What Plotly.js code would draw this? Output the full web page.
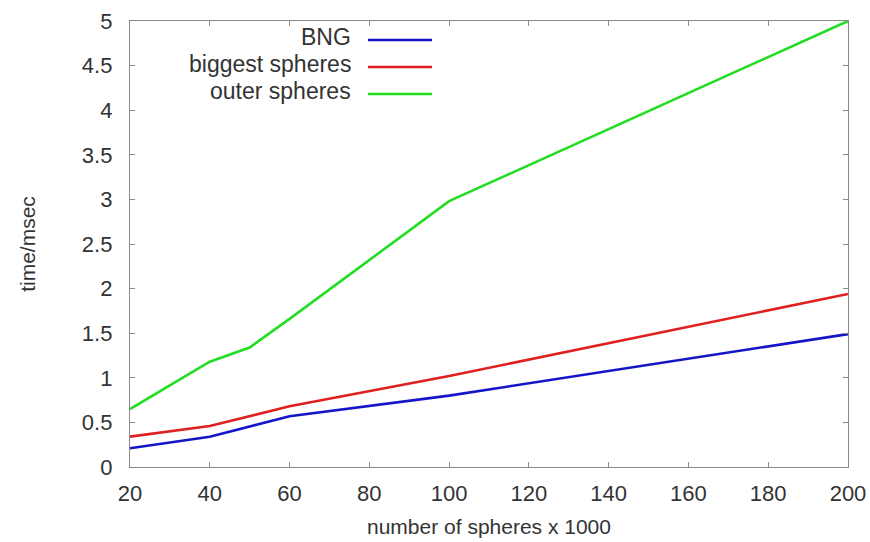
<!DOCTYPE html>
<html><head><meta charset="utf-8">
<script src="https://cdn.plot.ly/plotly-3.0.1.min.js"></script>
<style>html,body{margin:0;padding:0;background:#fff}#c{width:870px;height:542px}</style>
</head><body><div id="c"></div>
<script>
const seriesNames = ["BNG", "biggest spheres", "outer spheres"];
const xBNG = [20, 40, 60, 100, 200];
const yBNG = [0.21, 0.34, 0.57, 0.80, 1.49];
const xBiggest = [20, 40, 60, 100, 200];
const yBiggest = [0.34, 0.46, 0.68, 1.02, 1.94];
const xOuter = [20, 40, 50, 60, 100, 200];
const yOuter = [0.65, 1.18, 1.34, 1.66, 2.98, 5.0];
const colors = ["#1414c8", "#e02020", "#22dd22"];
const xTicks = [20, 40, 60, 80, 100, 120, 140, 160, 180, 200];
const yTicks = [0, 0.5, 1, 1.5, 2, 2.5, 3, 3.5, 4, 4.5, 5];
const yTickText = ["0", "0.5", "1", "1.5", "2", "2.5", "3", "3.5", "4", "4.5", "5"];

const FONT = 'Liberation Sans, Arial, sans-serif';
const xs = [xBNG, xBiggest, xOuter];
const ys = [yBNG, yBiggest, yOuter];
const traces = seriesNames.map((n, i) => ({
  x: xs[i], y: ys[i], name: n, type: 'scatter', mode: 'lines',
  line: {color: colors[i], width: 2.6}, showlegend: false
}));

// legend (text to the left of sample line, gnuplot style)
const legRowY = [0.9574, 0.8969, 0.8363];
const annotations = seriesNames.map((n, i) => ({
  xref: 'paper', yref: 'paper', x: 0.311, y: legRowY[i], xanchor: 'right', yanchor: 'middle', yshift: 3,
  text: n, showarrow: false, font: {family: FONT, size: 23, color: '#333'}
}));
const shapes = seriesNames.map((n, i) => ({
  type: 'line', xref: 'paper', yref: 'paper', x0: 0.3315, x1: 0.4206, y0: legRowY[i], y1: legRowY[i],
  line: {color: colors[i], width: 2.6}
}));

const axisCommon = {
  showgrid: false, zeroline: false, showline: true, linecolor: '#8a8a8a', linewidth: 1.2,
  mirror: 'ticks', ticks: 'inside', ticklen: 5, tickcolor: '#8a8a8a', tickwidth: 1,
  tickfont: {family: FONT, size: 22, color: '#333'}
};

const layout = {
  width: 870, height: 542,
  margin: {l: 130, r: 22, t: 21, b: 75},
  paper_bgcolor: '#fff', plot_bgcolor: '#fff',
  xaxis: Object.assign({}, axisCommon, {
    range: [20, 200], tickvals: xTicks, ticklabelstandoff: 6,
    title: {text: 'number of spheres x 1000', standoff: 14,
      font: {family: FONT, size: 21, color: '#333'}}
  }),
  yaxis: Object.assign({}, axisCommon, {
    range: [0, 5], tickvals: yTicks, ticktext: yTickText, ticklabelstandoff: 12,
    title: {text: 'time/msec', standoff: 40,
      font: {family: FONT, size: 21, color: '#333'}}
  }),
  annotations: annotations, shapes: shapes
};
Plotly.newPlot('c', traces, layout, {displayModeBar: false, staticPlot: true});
</script></body></html>
